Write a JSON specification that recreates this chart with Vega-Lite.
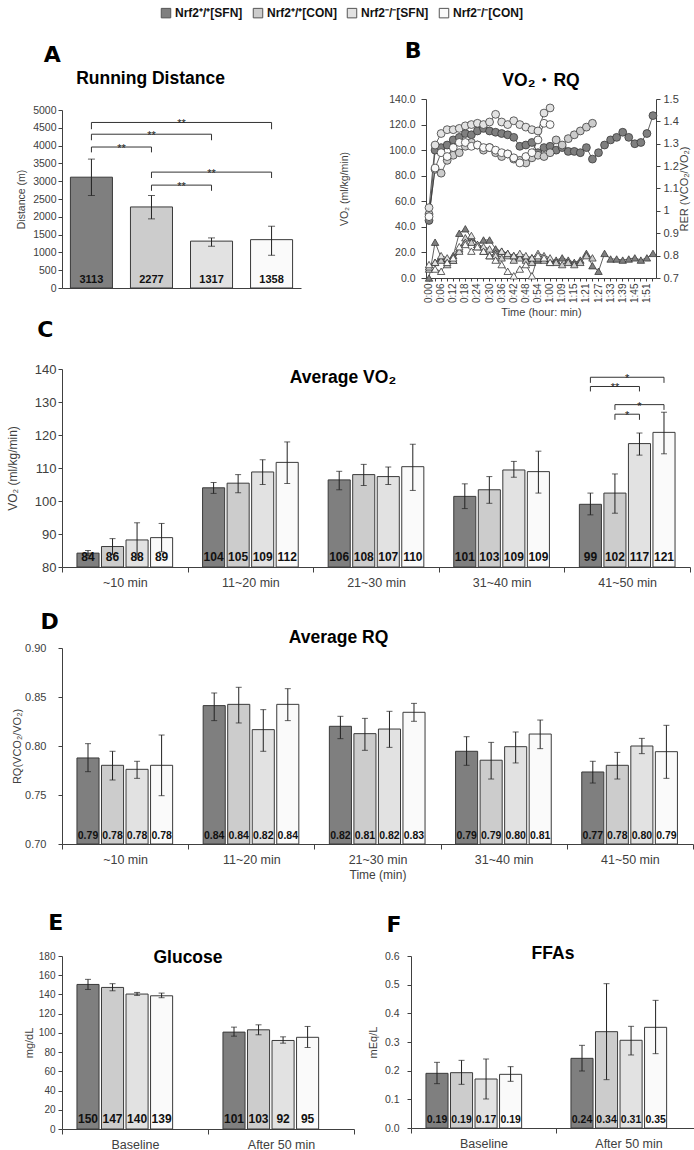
{
"$schema":"https://vega.github.io/schema/vega-lite/v6.json",
"padding":{"left":6,"top":7,"right":2,"bottom":2},
"config":{"font":"Liberation Sans","view":{"stroke":null},
 "axis":{"grid":false,"labelFont":"Liberation Sans","titleFont":"Liberation Sans","labelColor":"#404040","titleColor":"#404040","titleFontWeight":"normal","domainColor":"#404040","tickColor":"#404040","labelFontSize":11,"titleFontSize":11,"tickSize":4,"labelPadding":2,"titlePadding":6},
 "title":{"font":"Liberation Sans","fontWeight":"bold","color":"#000000","fontSize":17},
 "text":{"font":"Liberation Sans"}},
"datasets":{
 "dist":[{"g":"WS","v":3113,"lo":2598,"hi":3621},{"g":"WC","v":2277,"lo":1942,"hi":2598},{"g":"KS","v":1317,"lo":1173,"hi":1407},{"g":"KC","v":1358,"lo":919,"hi":1735}],
 "sigA":[{"b":1,"g":"WS","y":4460,"o":0},{"b":1,"g":"WS","y":4650,"o":1},{"b":1,"g":"KC","y":4650,"o":2},{"b":1,"g":"KC","y":4460,"o":3},
  {"b":2,"g":"WS","y":4150,"o":0},{"b":2,"g":"WS","y":4320,"o":1},{"b":2,"g":"KS","y":4320,"o":2},{"b":2,"g":"KS","y":4150,"o":3},
  {"b":3,"g":"WS","y":3810,"o":0},{"b":3,"g":"WS","y":3960,"o":1},{"b":3,"g":"WC","y":3960,"o":2},{"b":3,"g":"WC","y":3810,"o":3},
  {"b":4,"g":"WC","y":3090,"o":0},{"b":4,"g":"WC","y":3255,"o":1},{"b":4,"g":"KC","y":3255,"o":2},{"b":4,"g":"KC","y":3090,"o":3},
  {"b":5,"g":"WC","y":2730,"o":0},{"b":5,"g":"WC","y":2890,"o":1},{"b":5,"g":"KS","y":2890,"o":2},{"b":5,"g":"KS","y":2730,"o":3}],
 "starA":[{"g":"WC","y":4650,"s":"**","mid":1},{"g":"WC","y":4320,"s":"**","mid":0},{"g":"WS","y":3960,"s":"**","mid":1},{"g":"KS","y":3255,"s":"**","mid":0},{"g":"WC","y":2890,"s":"**","mid":1}],
 "ts":[
  {"g":"WS","t":"0:00","v":45,"r":0.70},{"g":"WS","t":"0:03","v":100,"r":0.86},{"g":"WS","t":"0:06","v":102,"r":0.79},{"g":"WS","t":"0:09","v":104,"r":0.78},{"g":"WS","t":"0:12","v":108,"r":0.80},{"g":"WS","t":"0:15","v":110,"r":0.90},{"g":"WS","t":"0:18","v":113,"r":0.92},{"g":"WS","t":"0:21","v":112,"r":0.88},{"g":"WS","t":"0:24","v":115,"r":0.85},{"g":"WS","t":"0:27","v":117,"r":0.87},{"g":"WS","t":"0:30","v":115,"r":0.87},{"g":"WS","t":"0:33","v":114,"r":0.83},{"g":"WS","t":"0:36","v":113,"r":0.82},{"g":"WS","t":"0:39","v":112,"r":0.81},{"g":"WS","t":"0:42","v":110,"r":0.80},{"g":"WS","t":"0:45","v":103,"r":0.80},{"g":"WS","t":"0:48","v":104,"r":0.79},{"g":"WS","t":"0:51","v":106,"r":0.79},{"g":"WS","t":"0:54","v":98,"r":0.78},{"g":"WS","t":"0:57","v":102,"r":0.79},{"g":"WS","t":"1:00","v":103,"r":0.78},{"g":"WS","t":"1:04","v":100,"r":0.78},{"g":"WS","t":"1:09","v":102,"r":0.79},{"g":"WS","t":"1:12","v":99,"r":0.78},{"g":"WS","t":"1:15","v":99,"r":0.77},{"g":"WS","t":"1:18","v":98,"r":0.78},{"g":"WS","t":"1:21","v":102,"r":0.81},{"g":"WS","t":"1:24","v":93,"r":0.755},{"g":"WS","t":"1:27","v":98,"r":0.73},{"g":"WS","t":"1:30","v":104,"r":0.81},{"g":"WS","t":"1:33","v":108,"r":0.785},{"g":"WS","t":"1:36","v":110,"r":0.785},{"g":"WS","t":"1:39","v":114,"r":0.78},{"g":"WS","t":"1:42","v":110,"r":0.785},{"g":"WS","t":"1:45","v":105,"r":0.79},{"g":"WS","t":"1:48","v":106,"r":0.78},{"g":"WS","t":"1:51","v":113,"r":0.79},{"g":"WS","t":"1:54","v":127,"r":0.81},
  {"g":"WC","t":"0:00","v":50,"r":0.74},{"g":"WC","t":"0:03","v":85,"r":0.77},{"g":"WC","t":"0:06","v":82,"r":0.78},{"g":"WC","t":"0:09","v":92,"r":0.76},{"g":"WC","t":"0:12","v":96,"r":0.78},{"g":"WC","t":"0:15","v":98,"r":0.83},{"g":"WC","t":"0:18","v":103,"r":0.88},{"g":"WC","t":"0:21","v":106,"r":0.86},{"g":"WC","t":"0:24","v":104,"r":0.84},{"g":"WC","t":"0:27","v":100,"r":0.82},{"g":"WC","t":"0:30","v":102,"r":0.80},{"g":"WC","t":"0:33","v":98,"r":0.81},{"g":"WC","t":"0:36","v":95,"r":0.79},{"g":"WC","t":"0:39","v":97,"r":0.80},{"g":"WC","t":"0:42","v":93,"r":0.78},{"g":"WC","t":"0:45","v":92,"r":0.79},{"g":"WC","t":"0:48","v":90,"r":0.78},{"g":"WC","t":"0:51","v":94,"r":0.77},{"g":"WC","t":"0:54","v":96,"r":0.79},{"g":"WC","t":"0:57","v":95,"r":0.78},{"g":"WC","t":"1:00","v":98,"r":0.77},{"g":"WC","t":"1:04","v":108,"r":0.77},{"g":"WC","t":"1:09","v":104,"r":0.76},{"g":"WC","t":"1:12","v":109,"r":0.77},{"g":"WC","t":"1:15","v":112,"r":0.76},{"g":"WC","t":"1:18","v":115,"r":0.77},{"g":"WC","t":"1:21","v":118,"r":0.80},{"g":"WC","t":"1:24","v":121,"r":0.79},
  {"g":"KS","t":"0:00","v":55,"r":0.75},{"g":"KS","t":"0:03","v":104,"r":0.77},{"g":"KS","t":"0:06","v":113,"r":0.80},{"g":"KS","t":"0:09","v":116,"r":0.79},{"g":"KS","t":"0:12","v":116,"r":0.78},{"g":"KS","t":"0:15","v":117,"r":0.82},{"g":"KS","t":"0:18","v":119,"r":0.86},{"g":"KS","t":"0:21","v":120,"r":0.89},{"g":"KS","t":"0:24","v":121,"r":0.85},{"g":"KS","t":"0:27","v":120,"r":0.84},{"g":"KS","t":"0:30","v":122,"r":0.83},{"g":"KS","t":"0:33","v":128,"r":0.80},{"g":"KS","t":"0:36","v":122,"r":0.82},{"g":"KS","t":"0:39","v":120,"r":0.81},{"g":"KS","t":"0:42","v":123,"r":0.80},{"g":"KS","t":"0:45","v":120,"r":0.81},{"g":"KS","t":"0:48","v":118,"r":0.80},{"g":"KS","t":"0:51","v":116,"r":0.79},{"g":"KS","t":"0:54","v":115,"r":0.81},{"g":"KS","t":"0:57","v":129,"r":0.80},{"g":"KS","t":"1:00","v":133,"r":0.79},
  {"g":"KC","t":"0:00","v":48,"r":0.76},{"g":"KC","t":"0:03","v":86,"r":0.74},{"g":"KC","t":"0:06","v":98,"r":0.73},{"g":"KC","t":"0:09","v":95,"r":0.77},{"g":"KC","t":"0:12","v":102,"r":0.79},{"g":"KC","t":"0:15","v":106,"r":0.84},{"g":"KC","t":"0:18","v":106,"r":0.85},{"g":"KC","t":"0:21","v":103,"r":0.82},{"g":"KC","t":"0:24","v":104,"r":0.84},{"g":"KC","t":"0:27","v":102,"r":0.82},{"g":"KC","t":"0:30","v":102,"r":0.80},{"g":"KC","t":"0:33","v":100,"r":0.78},{"g":"KC","t":"0:36","v":98,"r":0.76},{"g":"KC","t":"0:39","v":97,"r":0.73},{"g":"KC","t":"0:42","v":94,"r":0.71},{"g":"KC","t":"0:45","v":90,"r":0.74},{"g":"KC","t":"0:48","v":95,"r":0.76},{"g":"KC","t":"0:51","v":98,"r":0.71},{"g":"KC","t":"0:54","v":108,"r":0.80},{"g":"KC","t":"0:57","v":121,"r":0.79},{"g":"KC","t":"1:00","v":120,"r":0.77}],
 "vo2avg":[
  {"grp":"~10 min","g":"WS","v":84.2,"lo":83.4,"hi":85.0},{"grp":"~10 min","g":"WC","v":86.2,"lo":83.8,"hi":88.6},{"grp":"~10 min","g":"KS","v":88.2,"lo":83.0,"hi":93.4},{"grp":"~10 min","g":"KC","v":88.9,"lo":84.6,"hi":93.2},
  {"grp":"11~20 min","g":"WS","v":104.0,"lo":102.3,"hi":105.6},{"grp":"11~20 min","g":"WC","v":105.4,"lo":102.5,"hi":108.0},{"grp":"11~20 min","g":"KS","v":108.8,"lo":105.0,"hi":112.5},{"grp":"11~20 min","g":"KC","v":111.7,"lo":105.3,"hi":117.9},
  {"grp":"21~30 min","g":"WS","v":106.4,"lo":103.4,"hi":109.0},{"grp":"21~30 min","g":"WC","v":108.0,"lo":104.7,"hi":111.1},{"grp":"21~30 min","g":"KS","v":107.4,"lo":105.0,"hi":110.3},{"grp":"21~30 min","g":"KC","v":110.4,"lo":103.2,"hi":117.2},
  {"grp":"31~40 min","g":"WS","v":101.4,"lo":97.7,"hi":105.2},{"grp":"31~40 min","g":"WC","v":103.4,"lo":99.3,"hi":107.4},{"grp":"31~40 min","g":"KS","v":109.4,"lo":107.2,"hi":112.0},{"grp":"31~40 min","g":"KC","v":108.9,"lo":102.4,"hi":115.1},
  {"grp":"41~50 min","g":"WS","v":99.0,"lo":95.8,"hi":102.4},{"grp":"41~50 min","g":"WC","v":102.4,"lo":96.3,"hi":108.2},{"grp":"41~50 min","g":"KS","v":117.4,"lo":113.9,"hi":120.6},{"grp":"41~50 min","g":"KC","v":120.8,"lo":114.3,"hi":126.9}],
 "sigC":[{"b":1,"grp":"41~50 min","g":"WS","y":135.8,"o":0},{"b":1,"grp":"41~50 min","g":"WS","y":137.5,"o":1},{"b":1,"grp":"41~50 min","g":"KC","y":137.5,"o":2},{"b":1,"grp":"41~50 min","g":"KC","y":135.8,"o":3},
  {"b":2,"grp":"41~50 min","g":"WS","y":133.2,"o":0},{"b":2,"grp":"41~50 min","g":"WS","y":134.7,"o":1},{"b":2,"grp":"41~50 min","g":"KS","y":134.7,"o":2},{"b":2,"grp":"41~50 min","g":"KS","y":133.2,"o":3},
  {"b":3,"grp":"41~50 min","g":"WC","y":127.6,"o":0},{"b":3,"grp":"41~50 min","g":"WC","y":129.2,"o":1},{"b":3,"grp":"41~50 min","g":"KC","y":129.2,"o":2},{"b":3,"grp":"41~50 min","g":"KC","y":127.6,"o":3},
  {"b":4,"grp":"41~50 min","g":"WC","y":124.6,"o":0},{"b":4,"grp":"41~50 min","g":"WC","y":126.3,"o":1},{"b":4,"grp":"41~50 min","g":"KS","y":126.3,"o":2},{"b":4,"grp":"41~50 min","g":"KS","y":124.6,"o":3}],
 "starC":[{"grp":"41~50 min","g":"WC","y":137.5,"s":"*","mid":1},{"grp":"41~50 min","g":"WC","y":134.7,"s":"**","mid":0},{"grp":"41~50 min","g":"KS","y":129.2,"s":"*","mid":0},{"grp":"41~50 min","g":"WC","y":126.3,"s":"*","mid":1}],
 "rq":[
  {"grp":"~10 min","g":"WS","v":0.7878,"lo":0.7738,"hi":0.8024},{"grp":"~10 min","g":"WC","v":0.7803,"lo":0.7653,"hi":0.7946},{"grp":"~10 min","g":"KS","v":0.7762,"lo":0.7670,"hi":0.7844},{"grp":"~10 min","g":"KC","v":0.7803,"lo":0.7493,"hi":0.8112},
  {"grp":"11~20 min","g":"WS","v":0.8412,"lo":0.8259,"hi":0.8541},{"grp":"11~20 min","g":"WC","v":0.8425,"lo":0.8235,"hi":0.8599},{"grp":"11~20 min","g":"KS","v":0.8167,"lo":0.7946,"hi":0.8371},{"grp":"11~20 min","g":"KC","v":0.8425,"lo":0.8259,"hi":0.8585},
  {"grp":"21~30 min","g":"WS","v":0.8201,"lo":0.8075,"hi":0.8303},{"grp":"21~30 min","g":"WC","v":0.8126,"lo":0.7956,"hi":0.8282},{"grp":"21~30 min","g":"KS","v":0.8173,"lo":0.7986,"hi":0.8354},{"grp":"21~30 min","g":"KC","v":0.8344,"lo":0.8252,"hi":0.8435},
  {"grp":"31~40 min","g":"WS","v":0.7946,"lo":0.7803,"hi":0.8095},{"grp":"31~40 min","g":"WC","v":0.7855,"lo":0.7663,"hi":0.8037},{"grp":"31~40 min","g":"KS","v":0.7993,"lo":0.7827,"hi":0.8143},{"grp":"31~40 min","g":"KC","v":0.8122,"lo":0.7973,"hi":0.8265},
  {"grp":"41~50 min","g":"WS","v":0.7735,"lo":0.7622,"hi":0.7844},{"grp":"41~50 min","g":"WC","v":0.7803,"lo":0.7663,"hi":0.7935},{"grp":"41~50 min","g":"KS","v":0.8000,"lo":0.7922,"hi":0.8078},{"grp":"41~50 min","g":"KC","v":0.7942,"lo":0.7670,"hi":0.8211}],
 "glu":[
  {"grp":"Baseline","g":"WS","v":150.4,"lo":145.2,"hi":155.7},{"grp":"Baseline","g":"WC","v":147.3,"lo":143.8,"hi":151.2},{"grp":"Baseline","g":"KS","v":140.4,"lo":139.0,"hi":142.1},{"grp":"Baseline","g":"KC","v":138.6,"lo":136.6,"hi":141.4},
  {"grp":"After 50 min","g":"WS","v":100.8,"lo":96.6,"hi":106.0},{"grp":"After 50 min","g":"WC","v":103.2,"lo":98.0,"hi":108.4},{"grp":"After 50 min","g":"KS","v":92.1,"lo":89.3,"hi":95.9},{"grp":"After 50 min","g":"KC","v":95.4,"lo":84.8,"hi":106.7}],
 "ffa":[
  {"grp":"Baseline","g":"WS","v":0.1907,"lo":0.1547,"hi":0.2291},{"grp":"Baseline","g":"WC","v":0.1930,"lo":0.1523,"hi":0.2360},{"grp":"Baseline","g":"KS","v":0.1709,"lo":0.1012,"hi":0.2407},{"grp":"Baseline","g":"KC","v":0.1872,"lo":0.1628,"hi":0.2140},
  {"grp":"After 50 min","g":"WS","v":0.2430,"lo":0.1988,"hi":0.2884},{"grp":"After 50 min","g":"WC","v":0.3360,"lo":0.1686,"hi":0.5035},{"grp":"After 50 min","g":"KS","v":0.3060,"lo":0.2547,"hi":0.3547},{"grp":"After 50 min","g":"KC","v":0.3512,"lo":0.2593,"hi":0.4453}]
},
"concat":[
 {"concat":[
  {"title":{"text":"A","anchor":"start","dx":27,"fontSize":22,"font":"DejaVu Sans","fontWeight":"bold","offset":3},
   "vconcat":[{
    "width":239,"height":189,
    "title":{"text":"Running Distance","offset":12,"fontSize":17.5,"dx":-31},
    "layer":[
     {"data":{"name":"dist"},"mark":{"type":"bar","stroke":"#3a3a3a","strokeWidth":1},
      "encoding":{
       "x":{"field":"g","type":"nominal","scale":{"domain":["WS","WC","KS","KC"],"paddingInner":0.3,"paddingOuter":0.14},"axis":{"title":null,"labels":false,"ticks":false}},
       "y":{"field":"v","type":"quantitative","scale":{"domain":[0,5000],"nice":false,"range":[189,11]},"axis":{"values":[0,500,1000,1500,2000,2500,3000,3500,4000,4500,5000],"format":"d","title":"Distance (m)","labelFontSize":10.5,"titleFontSize":10.5}},
       "fill":{"field":"g","type":"nominal","scale":{"domain":["WS","WC","KS","KC"],"range":["#7f7f7f","#cccccc","#e2e2e2","#fafafa"]},
        "legend":{"orient":"none","legendX":98,"legendY":-92,"direction":"horizontal","title":null,"symbolType":"square","symbolSize":90,"symbolStrokeColor":"#555555","symbolStrokeWidth":1,"labelFontSize":12,"labelFontWeight":"bold","labelFont":"Liberation Sans","labelColor":"#111111","columnPadding":8,"labelOffset":3,
         "labelExpr":"datum.label == 'WS' ? 'Nrf2⁺/⁺[SFN]' : datum.label == 'WC' ? 'Nrf2⁺/⁺[CON]' : datum.label == 'KS' ? 'Nrf2⁻/⁻[SFN]' : 'Nrf2⁻/⁻[CON]'"}}}},
     {"data":{"name":"dist"},"mark":{"type":"rule","color":"#222222","strokeWidth":1},
      "encoding":{"x":{"field":"g","type":"nominal"},"y":{"field":"lo","type":"quantitative","axis":{"values":[0,500,1000,1500,2000,2500,3000,3500,4000,4500,5000],"format":"d","title":"Distance (m)","labelFontSize":10.5,"titleFontSize":10.5}},"y2":{"field":"hi"}}},
     {"data":{"name":"dist"},"mark":{"type":"tick","color":"#222222","thickness":1,"size":7},
      "encoding":{"x":{"field":"g","type":"nominal"},"y":{"field":"lo","type":"quantitative","axis":{"values":[0,500,1000,1500,2000,2500,3000,3500,4000,4500,5000],"format":"d","title":"Distance (m)","labelFontSize":10.5,"titleFontSize":10.5}}}},
     {"data":{"name":"dist"},"mark":{"type":"tick","color":"#222222","thickness":1,"size":7},
      "encoding":{"x":{"field":"g","type":"nominal"},"y":{"field":"hi","type":"quantitative","axis":{"values":[0,500,1000,1500,2000,2500,3000,3500,4000,4500,5000],"format":"d","title":"Distance (m)","labelFontSize":10.5,"titleFontSize":10.5}}}},
     {"data":{"name":"dist"},"mark":{"type":"text","baseline":"bottom","dy":-3,"fontSize":11,"fontWeight":"bold","color":"#111111"},
      "encoding":{"x":{"field":"g","type":"nominal"},"y":{"datum":0,"axis":{"values":[0,500,1000,1500,2000,2500,3000,3500,4000,4500,5000],"format":"d","title":"Distance (m)","labelFontSize":10.5,"titleFontSize":10.5}},"text":{"field":"v","type":"quantitative","format":".0f"}}},
     {"data":{"name":"sigA"},"mark":{"type":"line","color":"#333333","strokeWidth":1},
      "encoding":{"x":{"field":"g","type":"nominal"},"y":{"field":"y","type":"quantitative","axis":{"values":[0,500,1000,1500,2000,2500,3000,3500,4000,4500,5000],"format":"d","title":"Distance (m)","labelFontSize":10.5,"titleFontSize":10.5}},"detail":{"field":"b"},"order":{"field":"o"}}},
     {"data":{"name":"starA"},"transform":[{"filter":"datum.mid == 0"}],"mark":{"type":"text","fontSize":11,"dy":5,"baseline":"alphabetic","color":"#222222"},
      "encoding":{"x":{"field":"g","type":"nominal"},"y":{"field":"y","type":"quantitative","axis":{"values":[0,500,1000,1500,2000,2500,3000,3500,4000,4500,5000],"format":"d","title":"Distance (m)","labelFontSize":10.5,"titleFontSize":10.5}},"text":{"field":"s"}}},
     {"data":{"name":"starA"},"transform":[{"filter":"datum.mid == 1"}],"mark":{"type":"text","fontSize":11,"dy":5,"dx":30,"baseline":"alphabetic","color":"#222222"},
      "encoding":{"x":{"field":"g","type":"nominal"},"y":{"field":"y","type":"quantitative","axis":{"values":[0,500,1000,1500,2000,2500,3000,3500,4000,4500,5000],"format":"d","title":"Distance (m)","labelFontSize":10.5,"titleFontSize":10.5}},"text":{"field":"s"}}}
    ]}]},
  {"title":{"text":"B","anchor":"start","dx":65,"fontSize":22,"font":"DejaVu Sans","fontWeight":"bold","offset":9},
   "vconcat":[{
    "width":230,"height":179,
    "title":{"text":"VO₂・RQ","offset":4,"fontSize":17.5},
    "data":{"name":"ts"},
    "layer":[
     {"layer":[
       {"mark":{"type":"line","color":"#3a3a3a","strokeWidth":0.8},
        "encoding":{"x":{"field":"t","type":"ordinal"},"y":{"field":"v","type":"quantitative","axis":{"values":[0,20,40,60,80,100,120,140],"format":".1f","title":"VO₂ (ml/kg/min)","labelFontSize":10.5,"titleFontSize":10.5,"labelPadding":6,"tickSize":5,"titlePadding":39}},"detail":{"field":"g"}}},
       {"mark":{"type":"point","shape":"circle","filled":true,"size":62,"stroke":"#3a3a3a","strokeWidth":0.8,"opacity":1},
        "encoding":{
         "x":{"field":"t","type":"ordinal","scale":{"type":"band","paddingInner":0,"paddingOuter":0,"domain":["0:00","0:03","0:06","0:09","0:12","0:15","0:18","0:21","0:24","0:27","0:30","0:33","0:36","0:39","0:42","0:45","0:48","0:51","0:54","0:57","1:00","1:04","1:09","1:12","1:15","1:18","1:21","1:24","1:27","1:30","1:33","1:36","1:39","1:42","1:45","1:48","1:51","1:54"]},
          "axis":{"title":"Time (hour: min)","labelAngle":270,"labelFontSize":10,"tickSize":3,"labelOverlap":false,"titleFontSize":11,"titlePadding":4,
           "labelExpr":"indexof(['0:00','0:06','0:12','0:18','0:24','0:30','0:36','0:42','0:48','0:54','1:00','1:09','1:15','1:21','1:27','1:33','1:39','1:45','1:51'], datum.label) >= 0 ? datum.label : ''"}},
         "y":{"field":"v","type":"quantitative","scale":{"domain":[0,140],"nice":false},"axis":{"values":[0,20,40,60,80,100,120,140],"format":".1f","title":"VO₂ (ml/kg/min)","labelFontSize":10.5,"titleFontSize":10.5,"labelPadding":6,"tickSize":5,"titlePadding":39}},
         "fill":{"field":"g","type":"nominal","scale":{"domain":["WS","WC","KS","KC"],"range":["#7f7f7f","#cccccc","#e2e2e2","#fafafa"]},"legend":null}}}
     ]},
     {"layer":[
       {"mark":{"type":"line","color":"#3a3a3a","strokeWidth":0.8},
        "encoding":{"x":{"field":"t","type":"ordinal"},"y":{"field":"r","type":"quantitative","axis":{"orient":"right","values":[0.7,0.8,0.9,1,1.1,1.2,1.3,1.4,1.5],"format":"~g","title":"RER (VCO₂/VO₂)","titleAngle":270,"titleBaseline":"top","labelFontSize":11,"titleFontSize":11,"labelPadding":3,"titlePadding":0}},"detail":{"field":"g"}}},
       {"mark":{"type":"point","shape":"triangle-up","filled":true,"size":55,"stroke":"#3a3a3a","strokeWidth":0.8,"opacity":1},
        "encoding":{
         "x":{"field":"t","type":"ordinal"},
         "y":{"field":"r","type":"quantitative","scale":{"domain":[0.7,1.5],"nice":false,"zero":false},"axis":{"orient":"right","values":[0.7,0.8,0.9,1,1.1,1.2,1.3,1.4,1.5],"format":"~g","title":"RER (VCO₂/VO₂)","titleAngle":270,"titleBaseline":"top","labelFontSize":11,"titleFontSize":11,"labelPadding":3,"titlePadding":0}},
         "fill":{"field":"g","type":"nominal","scale":{"domain":["WS","WC","KS","KC"],"range":["#7f7f7f","#cccccc","#e2e2e2","#fafafa"]},"legend":null}}}
     ]}
    ],
    "resolve":{"scale":{"y":"independent"}}
   }]}
 ],"columns":2,"align":"none","spacing":38},
 {"title":{"text":"C","anchor":"start","dx":31,"fontSize":22,"font":"DejaVu Sans","fontWeight":"bold","offset":21},
  "vconcat":[{
   "width":628,"height":198,
   "title":{"text":"Average VO₂","offset":-23,"fontSize":17.5,"dx":-33},
   "layer":[
    {"data":{"name":"vo2avg"},"mark":{"type":"bar","stroke":"#3a3a3a","strokeWidth":1},
     "encoding":{
      "x":{"field":"grp","type":"nominal","scale":{"domain":["~10 min","11~20 min","21~30 min","31~40 min","41~50 min"],"paddingInner":0,"paddingOuter":0},"axis":{"title":" ","titleFontSize":18,"titlePadding":2,"labelAngle":0,"labelFontSize":12.5,"tickBand":"extent","tickSize":5,"labelPadding":4}},
      "xOffset":{"field":"g","type":"nominal","scale":{"domain":["WS","WC","KS","KC"],"paddingInner":0.1,"paddingOuter":0.61}},
      "y":{"field":"v","type":"quantitative","scale":{"domain":[80,140],"zero":false,"nice":false},"axis":{"values":[80,90,100,110,120,130,140],"title":"VO₂ (ml/kg/min)","labelFontSize":13,"titleFontSize":12,"titlePadding":15}},
      "y2":{"datum":80},
      "fill":{"field":"g","type":"nominal","scale":{"domain":["WS","WC","KS","KC"],"range":["#7f7f7f","#cccccc","#e2e2e2","#fafafa"]},"legend":null}}},
    {"data":{"name":"vo2avg"},"mark":{"type":"rule","color":"#222222","strokeWidth":1},
     "encoding":{"x":{"field":"grp","type":"nominal"},"xOffset":{"field":"g","type":"nominal"},"y":{"field":"lo","type":"quantitative","axis":{"values":[80,90,100,110,120,130,140],"title":"VO₂ (ml/kg/min)","labelFontSize":13,"titleFontSize":12,"titlePadding":15}},"y2":{"field":"hi"}}},
    {"data":{"name":"vo2avg"},"mark":{"type":"tick","color":"#222222","thickness":1,"size":6},
     "encoding":{"x":{"field":"grp","type":"nominal"},"xOffset":{"field":"g","type":"nominal"},"y":{"field":"lo","type":"quantitative","axis":{"values":[80,90,100,110,120,130,140],"title":"VO₂ (ml/kg/min)","labelFontSize":13,"titleFontSize":12,"titlePadding":15}}}},
    {"data":{"name":"vo2avg"},"mark":{"type":"tick","color":"#222222","thickness":1,"size":6},
     "encoding":{"x":{"field":"grp","type":"nominal"},"xOffset":{"field":"g","type":"nominal"},"y":{"field":"hi","type":"quantitative","axis":{"values":[80,90,100,110,120,130,140],"title":"VO₂ (ml/kg/min)","labelFontSize":13,"titleFontSize":12,"titlePadding":15}}}},
    {"data":{"name":"vo2avg"},"mark":{"type":"text","baseline":"bottom","dy":-3,"fontSize":12,"fontWeight":"bold","color":"#111111"},
     "encoding":{"x":{"field":"grp","type":"nominal"},"xOffset":{"field":"g","type":"nominal"},"y":{"datum":80,"axis":{"values":[80,90,100,110,120,130,140],"title":"VO₂ (ml/kg/min)","labelFontSize":13,"titleFontSize":12,"titlePadding":15}},"text":{"field":"v","type":"quantitative","format":".0f"}}},
    {"data":{"name":"sigC"},"mark":{"type":"line","color":"#333333","strokeWidth":1},
     "encoding":{"x":{"field":"grp","type":"nominal"},"xOffset":{"field":"g","type":"nominal"},"y":{"field":"y","type":"quantitative","axis":{"values":[80,90,100,110,120,130,140],"title":"VO₂ (ml/kg/min)","labelFontSize":13,"titleFontSize":12,"titlePadding":15}},"detail":{"field":"b"},"order":{"field":"o"}}},
    {"data":{"name":"starC"},"transform":[{"filter":"datum.mid == 0"}],"mark":{"type":"text","fontSize":11,"dy":5,"baseline":"alphabetic","color":"#222222"},
     "encoding":{"x":{"field":"grp","type":"nominal"},"xOffset":{"field":"g","type":"nominal"},"y":{"field":"y","type":"quantitative","axis":{"values":[80,90,100,110,120,130,140],"title":"VO₂ (ml/kg/min)","labelFontSize":13,"titleFontSize":12,"titlePadding":15}},"text":{"field":"s"}}},
    {"data":{"name":"starC"},"transform":[{"filter":"datum.mid == 1"}],"mark":{"type":"text","fontSize":11,"dy":5,"baseline":"alphabetic","color":"#222222"},
     "encoding":{"x":{"field":"grp","type":"nominal"},"y":{"field":"y","type":"quantitative","axis":{"values":[80,90,100,110,120,130,140],"title":"VO₂ (ml/kg/min)","labelFontSize":13,"titleFontSize":12,"titlePadding":15}},"text":{"field":"s"}}}
   ]}]},
 {"title":{"text":"D","anchor":"start","dx":29,"fontSize":22,"font":"DejaVu Sans","fontWeight":"bold","offset":-5},
  "vconcat":[{
   "width":631,"height":196,
   "title":{"text":"Average RQ","offset":-4,"fontSize":17.5,"dx":-39},
   "layer":[
    {"data":{"name":"rq"},"mark":{"type":"bar","stroke":"#3a3a3a","strokeWidth":1},
     "encoding":{
      "x":{"field":"grp","type":"nominal","scale":{"domain":["~10 min","11~20 min","21~30 min","31~40 min","41~50 min"],"paddingInner":0,"paddingOuter":0},"axis":{"title":"Time (min)","titleFontSize":12,"titlePadding":4,"labelAngle":0,"labelFontSize":12.5,"tickBand":"extent","tickSize":5,"labelPadding":4}},
      "xOffset":{"field":"g","type":"nominal","scale":{"domain":["WS","WC","KS","KC"],"paddingInner":0.063,"paddingOuter":0.67}},
      "y":{"field":"v","type":"quantitative","scale":{"domain":[0.7,0.9],"zero":false,"nice":false},"axis":{"values":[0.7,0.75,0.8,0.85,0.9],"format":".2f","title":"RQ(VCO₂/VO₂)","labelFontSize":11,"titleFontSize":11,"labelPadding":12,"titlePadding":2}},
      "y2":{"datum":0.7},
      "fill":{"field":"g","type":"nominal","scale":{"domain":["WS","WC","KS","KC"],"range":["#7f7f7f","#cccccc","#e2e2e2","#fafafa"]},"legend":null}}},
    {"data":{"name":"rq"},"mark":{"type":"rule","color":"#222222","strokeWidth":1},
     "encoding":{"x":{"field":"grp","type":"nominal"},"xOffset":{"field":"g","type":"nominal"},"y":{"field":"lo","type":"quantitative","axis":{"values":[0.7,0.75,0.8,0.85,0.9],"format":".2f","title":"RQ(VCO₂/VO₂)","labelFontSize":11,"titleFontSize":11,"labelPadding":12,"titlePadding":2}},"y2":{"field":"hi"}}},
    {"data":{"name":"rq"},"mark":{"type":"tick","color":"#222222","thickness":1,"size":6},
     "encoding":{"x":{"field":"grp","type":"nominal"},"xOffset":{"field":"g","type":"nominal"},"y":{"field":"lo","type":"quantitative","axis":{"values":[0.7,0.75,0.8,0.85,0.9],"format":".2f","title":"RQ(VCO₂/VO₂)","labelFontSize":11,"titleFontSize":11,"labelPadding":12,"titlePadding":2}}}},
    {"data":{"name":"rq"},"mark":{"type":"tick","color":"#222222","thickness":1,"size":6},
     "encoding":{"x":{"field":"grp","type":"nominal"},"xOffset":{"field":"g","type":"nominal"},"y":{"field":"hi","type":"quantitative","axis":{"values":[0.7,0.75,0.8,0.85,0.9],"format":".2f","title":"RQ(VCO₂/VO₂)","labelFontSize":11,"titleFontSize":11,"labelPadding":12,"titlePadding":2}}}},
    {"data":{"name":"rq"},"mark":{"type":"text","baseline":"bottom","dy":-3,"fontSize":10.5,"fontWeight":"bold","color":"#111111"},
     "encoding":{"x":{"field":"grp","type":"nominal"},"xOffset":{"field":"g","type":"nominal"},"y":{"datum":0.7,"axis":{"values":[0.7,0.75,0.8,0.85,0.9],"format":".2f","title":"RQ(VCO₂/VO₂)","labelFontSize":11,"titleFontSize":11,"labelPadding":12,"titlePadding":2}},"text":{"field":"v","type":"quantitative","format":".2f"}}}
   ]}]},
 {"concat":[
  {"title":{"text":["","E"],"lineHeight":29,"anchor":"start","dx":25,"fontSize":22,"font":"DejaVu Sans","fontWeight":"bold","offset":14},
   "vconcat":[{
    "width":292,"height":173,
    "title":{"text":"Glucose","offset":-15,"fontSize":17.5,"dx":-20},
    "layer":[
     {"data":{"name":"glu"},"mark":{"type":"bar","stroke":"#3a3a3a","strokeWidth":1},
      "encoding":{
       "x":{"field":"grp","type":"nominal","scale":{"domain":["Baseline","After 50 min"],"paddingInner":0,"paddingOuter":0},"axis":{"title":null,"labelAngle":0,"labelFontSize":12.5,"tickBand":"extent","tickSize":5,"labelPadding":4}},
       "xOffset":{"field":"g","type":"nominal","scale":{"domain":["WS","WC","KS","KC"],"paddingInner":0.06,"paddingOuter":0.65}},
       "y":{"field":"v","type":"quantitative","scale":{"domain":[0,180],"nice":false},"axis":{"values":[0,20,40,60,80,100,120,140,160,180],"title":"mg/dL","labelFontSize":10,"titleFontSize":11,"labelPadding":3,"titlePadding":4}},
       "fill":{"field":"g","type":"nominal","scale":{"domain":["WS","WC","KS","KC"],"range":["#7f7f7f","#cccccc","#e2e2e2","#fafafa"]},"legend":null}}},
     {"data":{"name":"glu"},"mark":{"type":"rule","color":"#222222","strokeWidth":1},
      "encoding":{"x":{"field":"grp","type":"nominal"},"xOffset":{"field":"g","type":"nominal"},"y":{"field":"lo","type":"quantitative","axis":{"values":[0,20,40,60,80,100,120,140,160,180],"title":"mg/dL","labelFontSize":10,"titleFontSize":11,"labelPadding":3,"titlePadding":4}},"y2":{"field":"hi"}}},
     {"data":{"name":"glu"},"mark":{"type":"tick","color":"#222222","thickness":1,"size":6},
      "encoding":{"x":{"field":"grp","type":"nominal"},"xOffset":{"field":"g","type":"nominal"},"y":{"field":"lo","type":"quantitative","axis":{"values":[0,20,40,60,80,100,120,140,160,180],"title":"mg/dL","labelFontSize":10,"titleFontSize":11,"labelPadding":3,"titlePadding":4}}}},
     {"data":{"name":"glu"},"mark":{"type":"tick","color":"#222222","thickness":1,"size":6},
      "encoding":{"x":{"field":"grp","type":"nominal"},"xOffset":{"field":"g","type":"nominal"},"y":{"field":"hi","type":"quantitative","axis":{"values":[0,20,40,60,80,100,120,140,160,180],"title":"mg/dL","labelFontSize":10,"titleFontSize":11,"labelPadding":3,"titlePadding":4}}}},
     {"data":{"name":"glu"},"mark":{"type":"text","baseline":"bottom","dy":-3,"fontSize":12,"fontWeight":"bold","color":"#111111"},
      "encoding":{"x":{"field":"grp","type":"nominal"},"xOffset":{"field":"g","type":"nominal"},"y":{"datum":0,"axis":{"values":[0,20,40,60,80,100,120,140,160,180],"title":"mg/dL","labelFontSize":10,"titleFontSize":11,"labelPadding":3,"titlePadding":4}},"text":{"field":"v","type":"quantitative","format":".0f"}}}
    ]}]},
  {"title":{"text":["","F"],"lineHeight":29,"anchor":"start","dx":19,"fontSize":22,"font":"DejaVu Sans","fontWeight":"bold","offset":8},
   "vconcat":[{
    "width":290,"height":172,
    "title":{"text":"FFAs","offset":-11,"dx":-3,"fontSize":17.5},
    "layer":[
     {"data":{"name":"ffa"},"mark":{"type":"bar","stroke":"#3a3a3a","strokeWidth":1},
      "encoding":{
       "x":{"field":"grp","type":"nominal","scale":{"domain":["Baseline","After 50 min"],"paddingInner":0,"paddingOuter":0},"axis":{"title":null,"labelAngle":0,"labelFontSize":12.5,"tickBand":"extent","tickSize":5,"labelPadding":4}},
       "xOffset":{"field":"g","type":"nominal","scale":{"domain":["WS","WC","KS","KC"],"paddingInner":0.075,"paddingOuter":0.75}},
       "y":{"field":"v","type":"quantitative","scale":{"domain":[0,0.6],"nice":false},"axis":{"values":[0,0.1,0.2,0.3,0.4,0.5,0.6],"format":".1f","title":"mEq/L","labelFontSize":10.5,"titleFontSize":11,"labelPadding":8,"titlePadding":6}},
       "fill":{"field":"g","type":"nominal","scale":{"domain":["WS","WC","KS","KC"],"range":["#7f7f7f","#cccccc","#e2e2e2","#fafafa"]},"legend":null}}},
     {"data":{"name":"ffa"},"mark":{"type":"rule","color":"#222222","strokeWidth":1},
      "encoding":{"x":{"field":"grp","type":"nominal"},"xOffset":{"field":"g","type":"nominal"},"y":{"field":"lo","type":"quantitative","axis":{"values":[0,0.1,0.2,0.3,0.4,0.5,0.6],"format":".1f","title":"mEq/L","labelFontSize":10.5,"titleFontSize":11,"labelPadding":8,"titlePadding":6}},"y2":{"field":"hi"}}},
     {"data":{"name":"ffa"},"mark":{"type":"tick","color":"#222222","thickness":1,"size":6},
      "encoding":{"x":{"field":"grp","type":"nominal"},"xOffset":{"field":"g","type":"nominal"},"y":{"field":"lo","type":"quantitative","axis":{"values":[0,0.1,0.2,0.3,0.4,0.5,0.6],"format":".1f","title":"mEq/L","labelFontSize":10.5,"titleFontSize":11,"labelPadding":8,"titlePadding":6}}}},
     {"data":{"name":"ffa"},"mark":{"type":"tick","color":"#222222","thickness":1,"size":6},
      "encoding":{"x":{"field":"grp","type":"nominal"},"xOffset":{"field":"g","type":"nominal"},"y":{"field":"hi","type":"quantitative","axis":{"values":[0,0.1,0.2,0.3,0.4,0.5,0.6],"format":".1f","title":"mEq/L","labelFontSize":10.5,"titleFontSize":11,"labelPadding":8,"titlePadding":6}}}},
     {"data":{"name":"ffa"},"mark":{"type":"text","baseline":"bottom","dy":-3,"fontSize":10.5,"fontWeight":"bold","color":"#111111"},
      "encoding":{"x":{"field":"grp","type":"nominal"},"xOffset":{"field":"g","type":"nominal"},"y":{"datum":0,"axis":{"values":[0,0.1,0.2,0.3,0.4,0.5,0.6],"format":".1f","title":"mEq/L","labelFontSize":10.5,"titleFontSize":11,"labelPadding":8,"titlePadding":6}},"text":{"field":"v","type":"quantitative","format":".2f"}}}
    ]}]}
 ],"columns":2,"align":"none","spacing":12}
],
"columns":1,"align":"none","spacing":1
}
